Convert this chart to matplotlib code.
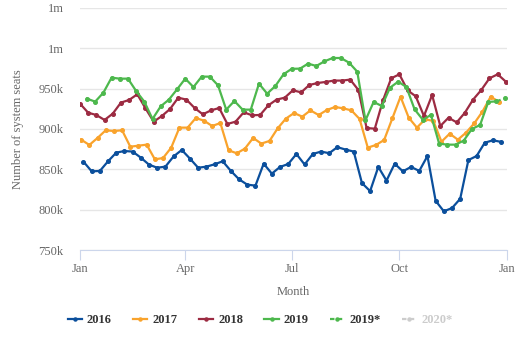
import numpy as np
import matplotlib
matplotlib.use("Agg")
import matplotlib.pyplot as plt
from matplotlib.lines import Line2D

# weekly system seats (thousands), one point per ISO week, plotted by day of year
seats_2016 = [859.5, 847.5, 848, 860, 870.7, 872.7, 872, 864.5, 855.8, 852, 853.3, 866, 874,
              863.3, 852, 853.3, 856.2, 860, 848, 837.6, 831, 829.8, 857, 844.7, 853, 856.6,
              869, 856, 869, 872, 870, 877.5, 874.5, 872, 833, 823, 853, 836, 857, 847.5,
              853, 848, 866.5, 811, 798, 802, 813.5, 861.5, 866.5, 883, 886, 884]
seats_2017 = [886.8, 880.2, 888.9, 898.4, 897.5, 898.4, 878.1, 879.3, 880.6, 862.4, 864, 876.9, 901.7,
              901.7, 913.6, 910.3, 903.7, 907.4, 873.6, 869.9, 875.7, 888.9, 881.9, 885.2, 900.9, 912.9,
              919.8, 915.3, 923.1, 917.3, 923.5, 927.3, 925.6, 923.1, 912.4, 876.9, 880.2, 886.4, 913.2,
              940, 914, 901.7, 912, 910, 884.3, 894.2, 886.8, 895.5, 907, 921.5, 940, 933.9]
seats_2018 = [931.4, 920.2, 917.3, 911.2, 919, 932.7, 936, 943, 925.6, 909.1, 916.1, 924.8, 938.8,
              936.4, 926, 918.2, 923.1, 926, 906.2, 909.1, 920.7, 917, 917.4, 929.3, 936.4, 938.8,
              948, 945.4, 954.5, 957, 958.3, 960, 960, 961.2, 948.3, 901.2, 900.4, 935.5, 962.8,
              967.8, 948, 940.5, 916.1, 942.1, 903.7, 914, 908.2, 920.2, 936.4, 948.3, 962.8, 967.8, 958.7]
seats_2019 = [937.6, 933.9, 945, 963.6, 962.4, 962.4, 947.1, 933.9, 912.4, 928.1, 936.4, 949.2, 962.4,
              952, 964.9, 964.9, 954.1, 924, 934.7, 924, 924, 956.2, 943.8, 953.3, 967.8, 974.6,
              974.8, 981, 978.1, 983.9, 988, 988, 982.2, 971.1, 910.7, 933.5, 928.5, 951.2, 958.7,
              952, 924.4, 911.6, 917.4, 881.9, 880.6, 880.6, 885.6, 900, 905, 933.5, 934.3]
seats_2019_est = [934.3, 938]  # last week estimated

# day of year of the first Monday (week 1) for each year
first_monday = {"2016": 3, "2017": 1, "2018": 0, "2019": 6}

y_ticks = [750, 800, 850, 900, 950, 1000, 1050]
y_labels = ["750k", "800k", "850k", "900k", "950k", "1m", "1m"]
x_ticks = [0, 90, 181, 273, 365]
x_labels = ["Jan", "Apr", "Jul", "Oct", "Jan"]

colors = {"2016": "#0b4f9c", "2017": "#f9a32c", "2018": "#9c2b42", "2019": "#4db84d"}

plt.rcParams["font.family"] = ["Liberation Serif", "DejaVu Serif"]

fig = plt.figure(figsize=(5.2, 3.47), dpi=100)
ax = fig.add_axes([0.1538, 0.2795, 0.8212, 0.6975])

series = {"2016": seats_2016, "2017": seats_2017, "2018": seats_2018, "2019": seats_2019}
for year, vals in series.items():
    days = first_monday[year] + 7 * np.arange(len(vals))
    ax.plot(days, vals, color=colors[year], lw=1.6, marker="o", ms=2.6, label=year)

est_days = first_monday["2019"] + 7 * np.arange(len(seats_2019) - 1, len(seats_2019) + 1)
ax.plot(est_days, seats_2019_est, color=colors["2019"], lw=1.6, ls=(0, (2, 2)),
        marker="o", ms=2.6, markevery=[1])

ax.set_xlim(0, 365)
ax.set_ylim(750, 1050)
ax.set_yticks(y_ticks)
ax.set_yticklabels(y_labels)
ax.set_xticks(x_ticks)
ax.set_xticklabels(x_labels)
ax.grid(axis="y", color="#e6e6e6", lw=1)
ax.set_axisbelow(True)
for s in ["top", "right", "left"]:
    ax.spines[s].set_visible(False)
ax.spines["bottom"].set_color("#ccd6eb")
ax.tick_params(axis="y", length=0, labelsize=9, labelcolor="#666666", pad=12)
ax.tick_params(axis="x", length=7, color="#ccd6eb", labelsize=9, labelcolor="#666666", pad=2)
ax.set_ylabel("Number of system seats", fontsize=9, color="#666666", labelpad=10)
ax.set_xlabel("Month", fontsize=9, color="#666666", labelpad=8)

handles = [Line2D([], [], color=colors[y], lw=1.6, marker="o", ms=2.2) for y in series]
handles.append(Line2D([], [], color=colors["2019"], lw=1.6, ls=(0, (2, 1.5)), marker="o", ms=2.2))
handles.append(Line2D([], [], color="#cccccc", lw=1.6, ls=(0, (2, 1.5)), marker="o", ms=2.2))
labels = ["2016", "2017", "2018", "2019", "2019*", "2020*"]
leg = fig.legend(handles, labels, loc="center", bbox_to_anchor=(0.5, 0.078), ncol=6,
                 frameon=False, prop={"weight": "bold", "size": 9}, handlelength=1.15,
                 columnspacing=1.7, handletextpad=0.4)
for t in leg.get_texts():
    t.set_color("#333333")
leg.get_texts()[-1].set_color("#cccccc")

fig.savefig("out.png", dpi=100)
